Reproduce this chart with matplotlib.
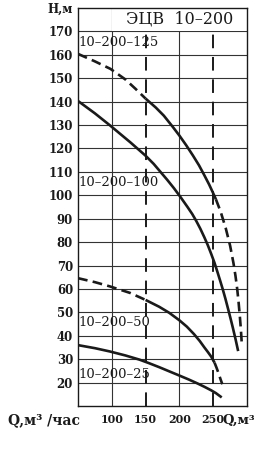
import matplotlib
matplotlib.use("Agg")
import matplotlib.pyplot as plt
from matplotlib.patches import Rectangle
import matplotlib.transforms as mtransforms

# ---- data ----
# 10-200-125 : dashed / solid / dashed
q125_a = [50, 75, 98, 120, 135, 150]
h125_a = [160.4, 157.2, 154.0, 149.5, 145.5, 141.3]
q125_b = [150, 165, 177, 190, 200, 210, 220, 229, 237, 244, 249, 254]
h125_b = [141.3, 137.5, 134.0, 129.3, 125.5, 121.4, 117.0, 112.8, 108.5, 104.6, 101.5, 98.3]
q125_c = [254, 261, 268.5, 275, 280, 283, 285.5, 287.5, 289.5, 291, 292.3]
h125_c = [98.3, 93.0, 86.0, 78.5, 71.0, 65.5, 60.0, 54.5, 48.0, 42.5, 36.5]

# 10-200-100 : solid
q100 = [50, 75, 98, 127.5, 150, 162, 172, 182, 192, 202, 212, 219, 225, 231, 237,
        242, 247, 252, 256, 260, 264, 268, 272, 276, 279, 283, 286.5]
h100 = [140.3, 135.0, 129.7, 122.6, 116.9, 113.4, 110.0, 106.6, 103.0, 99.1, 95.0,
        92.0, 89.0, 85.7, 82.0, 78.7, 75.0, 71.1, 67.5, 63.8, 60.0, 55.9, 51.5, 47.0,
        43.5, 38.6, 34.0]

# 10-200-50 : dashed / solid / dashed
q50_a = [50, 75, 97, 127, 150]
h50_a = [64.6, 62.9, 61.1, 58.3, 55.3]
q50_b = [150, 170, 185, 200, 211, 221.6, 230, 237, 242, 247, 252]
h50_b = [55.3, 52.4, 49.8, 46.6, 43.9, 40.7, 37.8, 35.0, 33.1, 31.1, 28.5]
q50_c = [252, 255, 258, 261, 263.5]
h50_c = [28.5, 26.3, 23.9, 21.3, 19.3]

# 10-200-25 : solid
q25 = [50, 75, 97, 120, 141, 155, 170, 185, 200, 214, 227, 237, 247, 254, 261]
h25 = [36.0, 34.7, 33.3, 31.6, 29.8, 28.3, 26.6, 24.8, 23.0, 21.3, 19.6, 18.2, 16.7, 15.5, 14.0]

y_ticks = list(range(20, 171, 10))
x_ticks = [100, 150, 200, 250]
x_solid_grid = [100, 200]
x_dashed_grid = [150, 250]

curve_labels = ["10–200–125", "10–200–100", "10–200–50", "10–200–25"]
curve_label_h = [165.2, 105.4, 45.6, 23.3]
title = "ЭЦВ  10–200"

# ---- figure ----
fig = plt.figure(figsize=(2.55, 4.5), dpi=100)
fig.patch.set_facecolor("white")
ax = fig.add_axes([78 / 255, 1 - 406 / 450, (247 - 78) / 255, (406 - 8) / 450])
ax.set_xlim(50, 300)
ax.set_ylim(10, 180)

ink = "#1a1a1a"
for h in y_ticks:
    ax.axhline(h, color="#333333", lw=0.8, zorder=1)
for q in x_solid_grid:
    ax.axvline(q, color="#333333", lw=0.8, zorder=1)
for q in x_dashed_grid:
    ax.axvline(q, color=ink, lw=1.4, dashes=(7, 4.5), zorder=1)

# title cell
ax.add_patch(Rectangle((100.6, 170.3), 199, 9.5, facecolor="white", edgecolor="none", zorder=2))
ax.text(200, 175.3, title, ha="center", va="center", fontsize=11.5,
        family="DejaVu Serif", color=ink, zorder=3)

lw = 1.9
dash = (3.7, 2.0)
kw = dict(color=ink, lw=lw, zorder=4, solid_joinstyle="round", dash_joinstyle="round")
ax.plot(q125_a, h125_a, dashes=dash, **kw)
ax.plot(q125_b, h125_b, solid_capstyle="butt", **kw)
ax.plot(q125_c, h125_c, dashes=dash, **kw)
ax.plot(q100, h100, **kw)
ax.plot(q50_a, h50_a, dashes=dash, **kw)
ax.plot(q50_b, h50_b, solid_capstyle="butt", **kw)
ax.plot(q50_c, h50_c, dashes=dash, **kw)
ax.plot(q25, h25, **kw)

for lab, h in zip(curve_labels, curve_label_h):
    ax.text(51.2, h, lab, ha="left", va="center", fontsize=9.5,
            family="DejaVu Serif", color=ink, zorder=5)

for s in ax.spines.values():
    s.set_linewidth(1.0)
    s.set_color(ink)

ax.set_yticks(y_ticks)
ax.set_yticklabels([str(v) for v in y_ticks], fontsize=8.5, family="DejaVu Serif",
                   fontweight="bold", color=ink)
ax.set_xticks(x_ticks)
ax.set_xticklabels([str(v) for v in x_ticks], fontsize=8, family="DejaVu Serif",
                   fontweight="bold", color=ink)
ax.tick_params(axis="y", length=0, pad=3.6)
ax.tick_params(axis="x", length=0, pad=6)

trans_y = mtransforms.blended_transform_factory(ax.transAxes, ax.transData)
ax.text(-0.03, 179.3, "H,м", transform=trans_y, ha="right", va="center",
        fontsize=8.5, family="DejaVu Serif", fontweight="bold", color=ink, clip_on=False)

fig.text(44 / 255, 1 - 420 / 450, "Q,м³ /час", ha="center", va="center",
         fontsize=10, family="DejaVu Serif", fontweight="bold", color=ink)
fig.text(223 / 255, 1 - 420 / 450, "Q,м³", ha="left", va="center",
         fontsize=9.5, family="DejaVu Serif", fontweight="bold", color=ink)

fig.savefig("out.png", dpi=100, facecolor="white")
